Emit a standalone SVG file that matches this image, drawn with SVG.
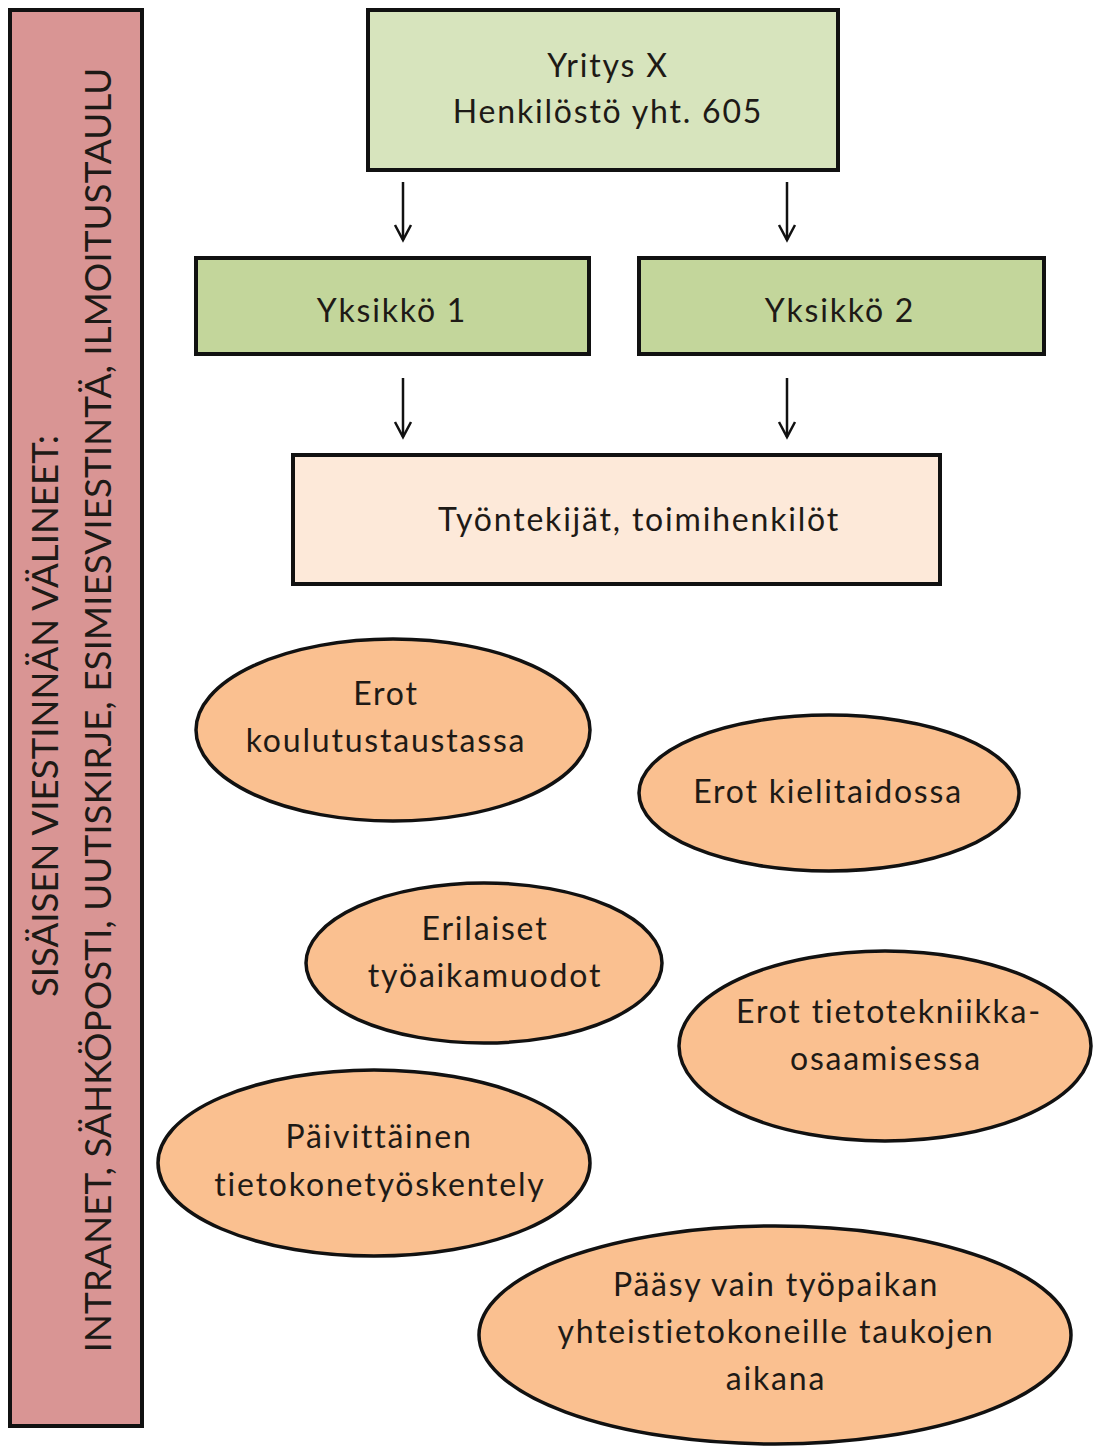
<svg xmlns="http://www.w3.org/2000/svg" width="1094" height="1448" viewBox="0 0 1094 1448">
<defs>
<marker id="arr" viewBox="-2 -2 20 20" refX="15" refY="8" markerWidth="20" markerHeight="20" markerUnits="userSpaceOnUse" orient="auto">
<path d="M0,0 L15,8 L0,16" fill="none" stroke="#111" stroke-width="2.5"/>
</marker>
</defs>
<style>
.t{font-family:Lato,"Open Sans","Liberation Sans",sans-serif;font-size:32px;letter-spacing:1.8px;fill:#1e1a16;text-anchor:middle}
.v{font-family:Lato,"Open Sans","Liberation Sans",sans-serif;font-size:36px;fill:#1e1a16;text-anchor:middle}
.box{stroke:#111;stroke-width:4}
.ell{fill:#fac090;stroke:#111;stroke-width:3.5}
.c{stroke:#111;stroke-width:2.5;fill:none}
</style>
<rect width="1094" height="1448" fill="#fff"/>
<g id="sidebar">
<rect class="box" x="10" y="10" width="132" height="1416" fill="#d99594"/>
<text class="v" transform="translate(58,716) rotate(-90)" textLength="562" lengthAdjust="spacingAndGlyphs">SISÄISEN VIESTINNÄN VÄLINEET:</text>
<text class="v" transform="translate(111,710) rotate(-90)" textLength="1285" lengthAdjust="spacingAndGlyphs">INTRANET, SÄHKÖPOSTI, UUTISKIRJE, ESIMIESVIESTINTÄ, ILMOITUSTAULU</text>
</g>
<g id="yritys">
<rect class="box" x="368" y="10" width="470" height="160" fill="#d7e4bd"/>
<text class="t" x="608" y="77">Yritys X</text>
<text class="t" x="608" y="123">Henkilöstö yht. 605</text>
</g>
<g id="yksikko1">
<rect class="box" x="196" y="258" width="393" height="96" fill="#c3d69b"/>
<text class="t" x="392" y="322">Yksikkö 1</text>
</g>
<g id="yksikko2">
<rect class="box" x="639" y="258" width="405" height="96" fill="#c3d69b"/>
<text class="t" x="840" y="322">Yksikkö 2</text>
</g>
<g id="tyontekijat">
<rect class="box" x="293" y="455" width="647" height="129" fill="#fde9d9"/>
<text class="t" x="639" y="531">Työntekijät, toimihenkilöt</text>
</g>
<g id="connectors">
<line class="c" x1="403" y1="182" x2="403" y2="240" marker-end="url(#arr)"/>
<line class="c" x1="787" y1="182" x2="787" y2="240" marker-end="url(#arr)"/>
<line class="c" x1="403" y1="378" x2="403" y2="437" marker-end="url(#arr)"/>
<line class="c" x1="787" y1="378" x2="787" y2="437" marker-end="url(#arr)"/>
</g>
<g id="e1">
<ellipse class="ell" cx="393" cy="730" rx="197" ry="91"/>
<text class="t" x="386" y="705">Erot</text>
<text class="t" x="386" y="752">koulutustaustassa</text>
</g>
<g id="e2">
<ellipse class="ell" cx="829" cy="793" rx="190" ry="78"/>
<text class="t" x="828" y="803">Erot kielitaidossa</text>
</g>
<g id="e3">
<ellipse class="ell" cx="484" cy="963" rx="178" ry="80"/>
<text class="t" x="485" y="940">Erilaiset</text>
<text class="t" x="485" y="987">työaikamuodot</text>
</g>
<g id="e4">
<ellipse class="ell" cx="885" cy="1046" rx="206" ry="95"/>
<text class="t" x="889" y="1023">Erot tietotekniikka-</text>
<text class="t" x="886" y="1070">osaamisessa</text>
</g>
<g id="e5">
<ellipse class="ell" cx="374" cy="1163" rx="216" ry="93"/>
<text class="t" x="379" y="1148">Päivittäinen</text>
<text class="t" x="380" y="1196">tietokonetyöskentely</text>
</g>
<g id="e6">
<ellipse class="ell" cx="775" cy="1335" rx="296" ry="109"/>
<text class="t" x="776" y="1296">Pääsy vain työpaikan</text>
<text class="t" x="776" y="1343">yhteistietokoneille taukojen</text>
<text class="t" x="776" y="1390">aikana</text>
</g>
</svg>
